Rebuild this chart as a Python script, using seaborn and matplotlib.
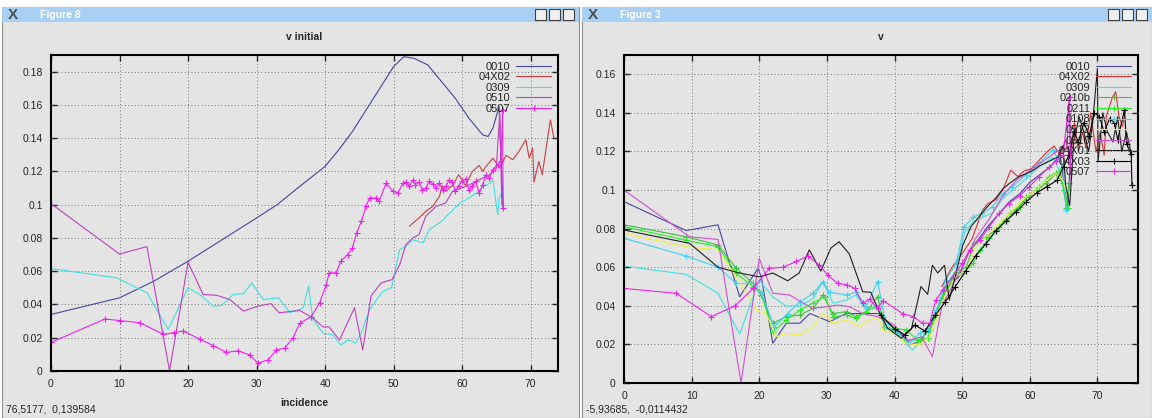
import matplotlib
matplotlib.use("Agg")
import matplotlib.pyplot as plt
from matplotlib.patches import Rectangle
import seaborn as sns

sns.set_style("ticks")
plt.rcParams.update({"font.family": ["Liberation Sans", "DejaVu Sans"], "font.size": 8})

W, H = 1152, 418
BG = "#e4e4e4"

# ---- left window: "v initial" ----
L0010_X = [0, 10, 15, 20, 25, 30, 33, 36, 40, 42, 44, 46, 48, 50, 51.5, 53, 55, 57, 59, 61, 63, 63.8, 64.5, 65.4, 65.7, 66]
L0010_Y = [0.034, 0.044, 0.054, 0.066, 0.079, 0.092, 0.100, 0.110, 0.123, 0.133, 0.144, 0.157, 0.170, 0.183, 0.189, 0.188,
           0.184, 0.174, 0.164, 0.152, 0.142, 0.141, 0.146, 0.159, 0.125, 0.098]
L04X02_X = [52.3, 53.7, 54.7, 55.7, 56.7, 57.1, 57.6, 58.6, 59.5, 60.5, 61.5, 62.5, 63, 63.5, 64.5, 65.5, 66.4, 67.4,
            68.3, 69.3, 69.8, 70.3, 70.5, 71.2, 71.7, 72.2, 72.7, 72.9, 73.4]
L04X02_Y = [0.087, 0.092, 0.096, 0.099, 0.105, 0.1115, 0.108, 0.1115, 0.118, 0.1115, 0.120, 0.1236, 0.120, 0.123, 0.128,
            0.122, 0.1297, 0.127, 0.132, 0.139, 0.128, 0.134, 0.1136, 0.126, 0.118, 0.132, 0.146, 0.151, 0.140]
L0309_X = [0, 9.6, 14, 17.1, 20, 21.7, 23.7, 24.9, 26.6, 28.1, 29.3, 31, 33.2, 34.9, 35.3, 36.8, 37.6, 38.2, 39.7, 41.1,
           42.3, 43.3, 44.5, 45.3, 46.5, 47.7, 48.5, 49.7, 50.9, 51.8, 52.8, 54.3, 55.2, 56.7, 58.2, 59.7, 60.6, 62.1,
           63.1, 64.1, 64.5, 65.2, 65.4, 65.9]
L0309_Y = [0.0616, 0.056, 0.047, 0.025, 0.050, 0.046, 0.039, 0.0394, 0.046, 0.0465, 0.053, 0.043, 0.044, 0.035, 0.0358,
           0.0378, 0.051, 0.0315, 0.0228, 0.0218, 0.0156, 0.0186, 0.017, 0.023, 0.0368, 0.044, 0.048, 0.050, 0.073,
           0.075, 0.079, 0.077, 0.085, 0.089, 0.095, 0.101, 0.103, 0.107, 0.111, 0.113, 0.115, 0.094, 0.104, 0.108]
L0510_X = [0, 10, 14, 17.3, 20, 22.2, 24.2, 26.1, 28.1, 30.2, 32.1, 33.3, 36.3, 38.2, 39.7, 40.6, 42.1, 44.3, 45.5, 46.7,
           48.2, 49.8, 50.9, 51.8, 52.8, 53.7, 54.7, 56.2, 57.6, 58.6, 60.6, 62.5, 64, 65, 65.5, 65.8]
L0510_Y = [0.1006, 0.0703, 0.0748, 0.0, 0.0653, 0.046, 0.0455, 0.043, 0.036, 0.039, 0.0405, 0.035, 0.0364, 0.032, 0.0265,
           0.0265, 0.0186, 0.038, 0.0126, 0.045, 0.053, 0.055, 0.064, 0.076, 0.080, 0.082, 0.093, 0.099, 0.101, 0.108,
           0.111, 0.115, 0.118, 0.122, 0.155, 0.100]
L0507_X = [0, 7.9, 10.1, 13, 16.4, 17.9, 19.3, 21.7, 23.7, 25.6, 27.3, 29, 30.2, 31.7, 32.9, 34.1, 35.3, 36.3, 38.0,
           39.2, 40.2, 40.6, 41.6, 42.3, 43.3, 44.0, 44.6, 45.3, 46.0, 46.5, 47.4, 47.9, 48.9, 49.9, 50.6, 51.4, 51.8,
           52.3, 52.8, 53.2, 53.7, 54.2, 54.7, 55.2, 55.7, 56.2, 56.7, 57.2, 57.7, 58.1, 58.6, 59.0, 59.5, 60.0, 60.5,
           61.0, 61.5, 62.0, 62.5, 63.0, 63.5, 64.0, 64.5, 65.2, 65.7, 65.9, 66]
L0507_Y = [0.0172, 0.0313, 0.0303, 0.029, 0.022, 0.023, 0.024, 0.0192, 0.0152, 0.0112, 0.0121, 0.0097, 0.0047, 0.0067,
           0.0127, 0.0137, 0.0198, 0.0287, 0.0327, 0.041, 0.052, 0.059, 0.059, 0.066, 0.070, 0.0741, 0.083, 0.090,
           0.0994, 0.104, 0.104, 0.102, 0.113, 0.108, 0.107, 0.113, 0.1136, 0.111, 0.1146, 0.112, 0.1136, 0.109, 0.110,
           0.114, 0.1126, 0.110, 0.113, 0.109, 0.1115, 0.115, 0.1136, 0.108, 0.1115, 0.114, 0.1156, 0.109, 0.111, 0.114,
           0.107, 0.112, 0.118, 0.116, 0.121, 0.124, 0.126, 0.157, 0.098]

# ---- right window: "v" ----
R0010_X = [0, 9.2, 13.9, 17.1, 19.8, 20.3, 22, 24, 26, 27.5, 30.4, 32.8, 35.3, 37.7, 39.5, 41, 42.5, 44, 45.2, 46.5, 48,
           49.5, 51, 52.5, 54, 55.5, 57, 58.5, 60, 61.5, 63, 64.5, 65.2, 65.6, 66]
R0010_Y = [0.094, 0.079, 0.082, 0.0447, 0.0594, 0.055, 0.0206, 0.031, 0.031, 0.036, 0.0318, 0.036, 0.036, 0.036, 0.030,
           0.025, 0.020, 0.022, 0.030, 0.040, 0.050, 0.055, 0.068, 0.075, 0.082, 0.088, 0.094, 0.098, 0.104, 0.108,
           0.112, 0.118, 0.100, 0.090, 0.115]
R04X02_X = [47, 48.5, 50, 51.5, 53, 53.8, 55, 56, 57.2, 58.2, 59.2, 60.2, 61.4, 62.6, 63.6, 64.5, 65.3, 66, 66.6, 67.2,
            67.8, 68.3, 69, 69.8, 70.4, 71, 71.3, 72.2, 72.7, 73.2, 73.7, 74.2]
R04X02_Y = [0.050, 0.060, 0.067, 0.075, 0.0896, 0.093, 0.095, 0.100, 0.1104, 0.107, 0.110, 0.111, 0.1155, 0.120, 0.1228,
            0.118, 0.126, 0.115, 0.135, 0.120, 0.130, 0.122, 0.140, 0.1196, 0.130, 0.118, 0.138, 0.148, 0.151, 0.138,
            0.133, 0.142]
R0309_X = [0, 9.2, 13.9, 17.1, 20, 22, 24, 26, 28, 29.4, 30.9, 32.9, 34.3, 35.8, 37.5, 39.3, 40.7, 42.7, 44.2, 45.2,
           46.4, 47.6, 49.1, 50.3, 51.6, 53, 54.5, 56, 57.5, 59.5, 61.4, 63.4, 64.6, 65.4, 65.9]
R0309_Y = [0.0606, 0.0563, 0.0465, 0.0254, 0.0534, 0.0447, 0.0399, 0.0399, 0.0439, 0.0525, 0.0413, 0.043, 0.0456,
           0.0378, 0.0404, 0.029, 0.024, 0.017, 0.024, 0.0275, 0.038, 0.050, 0.0585, 0.0775, 0.0836, 0.086, 0.088,
           0.0957, 0.100, 0.106, 0.112, 0.117, 0.1086, 0.0914, 0.105]
R0210B_X = [0, 9.2, 13.9, 16.6, 19.1, 20.3, 22, 24, 26, 28, 29.4, 30.9, 32.9, 34.3, 35.8, 37.5, 38.5, 40, 41.7, 43.7,
            45.2, 46.2, 47.6, 49.1, 50.6, 51.8, 53.5, 55, 56.5, 58, 59.5, 60.9, 62.4, 63.9, 64.9, 65.4, 65.8]
R0210B_Y = [0.082, 0.0758, 0.0715, 0.0594, 0.0516, 0.0456, 0.031, 0.0344, 0.0352, 0.0387, 0.0456, 0.036, 0.037, 0.0344,
            0.037, 0.0447, 0.029, 0.0275, 0.0223, 0.0223, 0.0275, 0.036, 0.050, 0.0577, 0.060, 0.0724, 0.0758, 0.0793,
            0.0845, 0.0896, 0.0965, 0.100, 0.1035, 0.1086, 0.1035, 0.0905, 0.1035]
R0211_X = [0, 9.2, 13.9, 16.6, 19.1, 20.3, 22, 24, 26, 28, 29.7, 30.9, 32.9, 34.3, 35.8, 37.3, 38.3, 40, 41.7, 43.4,
           44.9, 45.9, 47.1, 48.6, 50.1, 51.6, 52.6, 54, 55.5, 57, 58.5, 59.9, 61.4, 62.9, 64.4, 65.1, 65.6]
R0211_Y = [0.081, 0.074, 0.0706, 0.0568, 0.050, 0.0465, 0.0266, 0.0326, 0.0378, 0.0416, 0.0447, 0.0344, 0.0352, 0.0335,
           0.037, 0.0396, 0.0344, 0.0283, 0.0275, 0.0223, 0.0231, 0.0344, 0.0447, 0.054, 0.0568, 0.062, 0.069, 0.075,
           0.081, 0.088, 0.0914, 0.0974, 0.1017, 0.107, 0.110, 0.100, 0.0905]
R0108_X = [0, 9.2, 13.9, 16.6, 19.1, 20.3, 22.2, 24.2, 26, 28, 29.4, 30.4, 32.9, 34.3, 35.8, 37.5, 38.8, 40.5, 42.2,
           43.7, 44.9, 46.2, 47.6, 49.1, 50.3, 51.6, 53, 54.5, 56, 57.4, 59.4, 61.4, 63.4, 64.9, 65.4]
R0108_Y = [0.075, 0.0658, 0.060, 0.0516, 0.0516, 0.047, 0.029, 0.036, 0.042, 0.0465, 0.0525, 0.047, 0.0456, 0.047,
           0.0396, 0.0525, 0.029, 0.0257, 0.0205, 0.0257, 0.0275, 0.0378, 0.0534, 0.062, 0.081, 0.086, 0.088, 0.0914,
           0.098, 0.1017, 0.1078, 0.114, 0.1207, 0.112, 0.0896]
R0512_X = [0, 9.2, 13.9, 16.6, 19.6, 21, 22.5, 24, 26, 28, 29.4, 30.9, 32.9, 34.8, 36.3, 37.5, 38.3, 40, 41.7, 43.7,
           45.2, 46.2, 47.6, 49.1, 50.6, 52, 53.5, 55, 56.5, 58, 59.5, 60.9, 62.4, 63.9, 64.9, 65.6]
R0512_Y = [0.0775, 0.0706, 0.069, 0.055, 0.0378, 0.036, 0.024, 0.0257, 0.0249, 0.0292, 0.036, 0.031, 0.0326, 0.0292,
           0.0326, 0.0344, 0.0275, 0.0257, 0.0205, 0.0197, 0.024, 0.0326, 0.0465, 0.055, 0.0585, 0.0706, 0.0758, 0.081,
           0.0862, 0.0914, 0.0965, 0.100, 0.105, 0.1086, 0.105, 0.0965]
R0510_X = [0, 9.7, 13.9, 17.3, 20, 22, 24.5, 26.2, 27.9, 30.1, 31.6, 33.3, 35.3, 37.5, 40, 42, 44, 45.6, 47, 48.5, 50,
           52, 54, 56, 58, 60, 62, 64, 65.5, 65.8, 66.1]
R0510_Y = [0.100, 0.0758, 0.0744, 0.0, 0.0646, 0.0465, 0.0456, 0.042, 0.0387, 0.0396, 0.0404, 0.0396, 0.036, 0.0344,
           0.030, 0.022, 0.024, 0.0136, 0.040, 0.050, 0.060, 0.075, 0.085, 0.097, 0.105, 0.110, 0.115, 0.120, 0.122,
           0.148, 0.105]
R04X01_X = [0, 9.7, 13.9, 17.1, 20, 22, 24.2, 25.9, 27.4, 29.1, 30.6, 31.8, 33.3, 35.3, 36.5, 37.7, 39, 41, 42.5, 43.9,
            44.9, 45.6, 46.4, 47.4, 48.1, 49.1, 50.1, 51.3, 53.5, 55, 56, 57, 58.4, 60.2, 61.4, 62.9, 64.1, 64.9, 65.3,
            65.9, 66.5, 67.3, 68, 68.7, 69.3, 70, 70.1, 70.8, 71.5, 72.3, 73, 73.6, 74.3, 75]
R04X01_Y = [0.0793, 0.0724, 0.060, 0.057, 0.055, 0.057, 0.053, 0.057, 0.069, 0.058, 0.070, 0.0732, 0.067, 0.0473, 0.047,
            0.037, 0.0283, 0.0232, 0.028, 0.050, 0.046, 0.061, 0.057, 0.061, 0.043, 0.057, 0.0715, 0.081, 0.0905, 0.096,
            0.1005, 0.1035, 0.107, 0.1096, 0.1124, 0.115, 0.117, 0.123, 0.1026, 0.092, 0.125, 0.138, 0.130, 0.120,
            0.135, 0.163, 0.115, 0.140, 0.130, 0.125, 0.138, 0.120, 0.130, 0.119]
R04X03_X = [38, 40, 41.5, 43, 44.5, 46, 47.5, 49, 50.5, 52, 53.5, 55, 56.5, 58, 59.5, 61, 62.5, 64, 65, 65.8, 66.5,
            67.2, 68, 68.8, 69.5, 70.3, 71, 71.8, 72.5, 73, 74, 74.3, 75, 75.1]
R04X03_Y = [0.035, 0.028, 0.025, 0.030, 0.027, 0.035, 0.042, 0.050, 0.058, 0.066, 0.072, 0.079, 0.084, 0.0888, 0.094,
            0.0985, 0.1017, 0.105, 0.112, 0.118, 0.130, 0.125, 0.135, 0.128, 0.140, 0.138, 0.130, 0.137, 0.135, 0.126,
            0.1415, 0.124, 0.1185, 0.1026]
R0507_X = [0, 7.7, 12.9, 16.4, 19.1, 21.5, 23.5, 25.5, 27.2, 28.9, 30.1, 31.6, 32.9, 34.1, 35.3, 36.3, 37.5, 38.3,
           41.2, 42.7, 44.2, 45.2, 46.1, 47.1, 48.6, 50, 51.1, 52.6, 54, 55.5, 56.9, 58.5, 59.9, 61.4, 62.9, 63.9, 64.9,
           65.9, 66]
R0507_Y = [0.049, 0.0465, 0.0344, 0.040, 0.049, 0.0594, 0.060, 0.063, 0.0658, 0.061, 0.056, 0.0516, 0.051, 0.049,
           0.0413, 0.0434, 0.0387, 0.0427, 0.036, 0.0344, 0.031, 0.031, 0.043, 0.048, 0.055, 0.062, 0.069, 0.074, 0.081,
           0.088, 0.093, 0.097, 0.1017, 0.107, 0.112, 0.115, 0.118, 0.148, 0.112]

left_series = [
    ("0010", L0010_X, L0010_Y, "#4646a0", None),
    ("04X02", L04X02_X, L04X02_Y, "#c84040", None),
    ("0309", L0309_X, L0309_Y, "#40e0e0", None),
    ("0510", L0510_X, L0510_Y, "#c040c0", None),
    ("0507", L0507_X, L0507_Y, "#f020f0", "+"),
]
right_series = [
    ("0010", R0010_X, R0010_Y, "#4646a0", None),
    ("04X02", R04X02_X, R04X02_Y, "#e03030", None),
    ("0309", R0309_X, R0309_Y, "#40e0e0", None),
    ("0210b", R0210B_X, R0210B_Y, "#40c040", "+"),
    ("0211", R0211_X, R0211_Y, "#20f020", "+"),
    ("0108", R0108_X, R0108_Y, "#40d0f0", "+"),
    ("0512", R0512_X, R0512_Y, "#f0f040", None),
    ("0510", R0510_X, R0510_Y, "#d050d0", None),
    ("04X01", R04X01_X, R04X01_Y, "#202020", None),
    ("04X03", R04X03_X, R04X03_Y, "#000000", "+"),
    ("0507", R0507_X, R0507_Y, "#f020f0", "+"),
]


def px_rect(x0, y0, x1, y1):
    return [x0 / W, 1 - y1 / H, (x1 - x0) / W, (y1 - y0) / H]


def add_box(fig, x0, y0, x1, y1, **kw):
    r = px_rect(x0, y0, x1, y1)
    fig.add_artist(Rectangle((r[0], r[1]), r[2], r[3], transform=fig.transFigure, zorder=-5, **kw))


def window(fig, x0, x1, title, status):
    # window body, title bar, buttons and status line
    add_box(fig, x0, 7, x1, H, facecolor=BG, edgecolor="#909090", lw=0.8)
    add_box(fig, x0, 7, x1, 22, facecolor="#a8d0f4", edgecolor="none")
    fig.text((x0 + 6) / W, 1 - 15 / H, "X", fontsize=11, color="#505050", va="center", fontweight="bold")
    fig.text((x0 + 38) / W, 1 - 15 / H, title, fontsize=7.5, color="white", va="center", fontweight="bold")
    for k in range(3):
        add_box(fig, x1 - 44 + 14 * k, 9, x1 - 33 + 14 * k, 20, facecolor="#f0f0f0", edgecolor="#404040", lw=0.8)
    fig.text((x0 + 4) / W, 1 - 410 / H, status, fontsize=7.5, va="center")


def panel(ax, series, title, ymax, yticks, xmax):
    ax.set_facecolor(BG)
    for name, xs, ys, color, marker in series:
        sns.lineplot(x=xs, y=ys, ax=ax, color=color, marker=marker, markersize=5, markeredgewidth=0.8,
                     markeredgecolor=color, lw=0.8, sort=False, estimator=None, label=name)
    ax.set_xlim(0, xmax)
    ax.set_ylim(0, ymax)
    ax.set_xticks(range(0, 71, 10))
    ax.set_yticks(yticks)
    ax.set_yticklabels([f"{v:g}" for v in yticks])
    ax.grid(True, color="#505050", lw=0.6, linestyle=(0, (1, 3)))
    ax.tick_params(direction="in", length=4, width=1, top=True, right=True, labelsize=7.5, pad=6)
    for s in ax.spines.values():
        s.set_linewidth(1.5)
        s.set_color("black")
    ax.set_title(title, fontweight="bold", fontsize=7.5, pad=11)
    ax.legend(loc="upper right", frameon=False, markerfirst=False, fontsize=8, handlelength=3.2,
              labelspacing=0.05, borderaxespad=0.2, handletextpad=0.5)


fig = plt.figure(figsize=(W / 100, H / 100), dpi=100, facecolor="white")
window(fig, 2, 579, "Figure 8", "76,5177,  0,139584")
window(fig, 582, 1152, "Figure 3", "-5,93685,  -0,0114432")

ax1 = fig.add_axes(px_rect(51, 55, 558, 371))
panel(ax1, left_series, "v initial", 0.19, [i * 0.02 for i in range(10)], 74)
ax1.set_xlabel("incidence", fontweight="bold", fontsize=7.5, labelpad=6)

ax2 = fig.add_axes(px_rect(624, 55, 1138, 383))
panel(ax2, right_series, "v", 0.17, [i * 0.02 for i in range(9)], 76)

fig.savefig("out.png", dpi=100, facecolor=fig.get_facecolor())
